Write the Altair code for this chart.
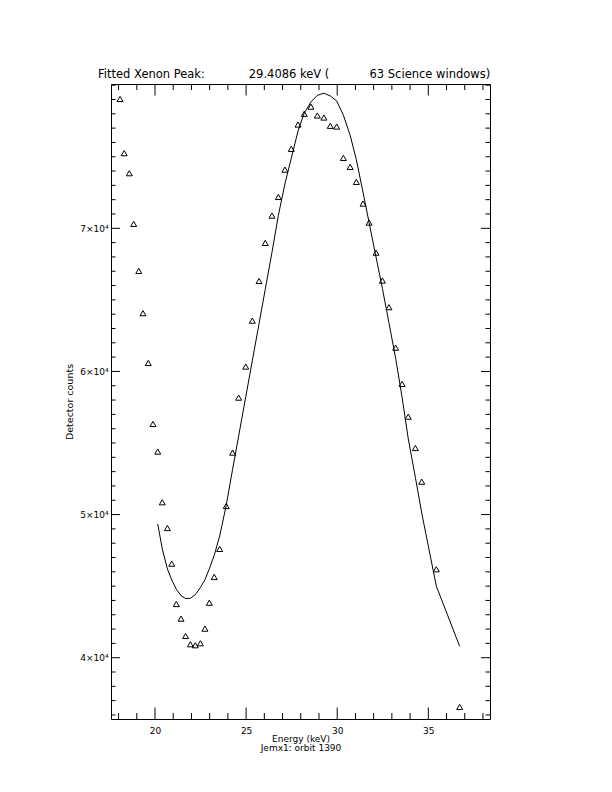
import altair as alt
import pandas as pd

# Measured data (triangles)
energy = [18.08, 18.31, 18.59, 18.83, 19.11, 19.34, 19.63, 19.89, 20.15, 20.40,
          20.68, 20.92, 21.17, 21.43, 21.68, 21.94, 22.21, 22.49, 22.74, 22.98,
          23.25, 23.55, 23.91, 24.26, 24.59, 24.98, 25.34, 25.71, 26.05, 26.42,
          26.77, 27.13, 27.48, 27.85, 28.19, 28.56, 28.91, 29.27, 29.62, 29.97,
          30.34, 30.71, 31.05, 31.42, 31.75, 32.13, 32.48, 32.84, 33.21, 33.56,
          33.90, 34.29, 34.64, 35.44, 36.72]
counts = [79040, 75250, 73850, 70310, 67020, 64070, 60590, 56330, 54400, 50860,
          49060, 46570, 43750, 42730, 41520, 40940, 40870, 41010, 42030, 43840,
          45640, 47600, 50600, 54330, 58170, 60340, 63550, 66320, 68980, 70890,
          72190, 74100, 75550, 77250, 78000, 78500, 77880, 77740, 77160, 77110,
          74920, 74290, 73240, 71730, 70400, 68300, 66350, 64490, 61660, 59130,
          56840, 54650, 52300, 46180, 36560]

# Fitted curve (evaluated at the data energies from 20.15 keV on)
fit_energy = energy[8:]
fit_counts = [49340, 47600, 46200, 45430, 44780, 44330, 44130, 44150, 44400, 44900,
              45450, 46200, 47150, 48500, 50650, 53170, 55480, 58220, 60740, 63340,
              65730, 68320, 70900, 73100, 74900, 76800, 78050, 78830, 79290, 79440,
              79250, 78900, 77900, 76500, 74800, 72500, 70400, 68000, 65800, 63400,
              60900, 58200, 55300, 52600, 50100, 45000, 40800]

# Tick values
x_major = [20, 25, 30, 35]
x_minor = [18, 19, 21, 22, 23, 24, 26, 27, 28, 29, 31, 32, 33, 34, 36, 37, 38]
y_major = [40000, 50000, 60000, 70000]
y_minor = [36000, 37000, 38000, 39000, 41000, 42000, 43000, 44000, 45000, 46000,
           47000, 48000, 49000, 51000, 52000, 53000, 54000, 55000, 56000, 57000,
           58000, 59000, 61000, 62000, 63000, 64000, 65000, 66000, 67000, 68000,
           69000, 71000, 72000, 73000, 74000, 75000, 76000, 77000, 78000, 79000,
           80000]

W, H = 379, 635
FONT = "DejaVu Sans"
NB = "\u00a0"

title_text = ("Fitted Xenon Peak:" + NB * 12 + "29.4086 keV (" + NB * 11
              + "63 Science windows)")

xscale = alt.Scale(domain=[17.585, 38.386], nice=False, zero=False)
yscale = alt.Scale(domain=[35717, 80082], nice=False, zero=False)

xaxis = alt.Axis(values=x_major, ticks=False, domain=False, grid=False,
                 labelFont=FONT, labelFontSize=9, labelPadding=7, labelColor="black",
                 title=["Energy (keV)", NB * 7 + "Jemx1: orbit 1390"],
                 titleFont=FONT, titleFontSize=9, titleFontWeight="normal",
                 titleLineHeight=9.5, titlePadding=-1, titleColor="black")
yaxis = alt.Axis(values=y_major, ticks=False, domain=False, grid=False,
                 labelExpr="datum.value/10000 + '×10⁴'",
                 labelFont=FONT, labelFontSize=9, labelPadding=3, labelColor="black",
                 title="Detector counts", titleFont=FONT, titleFontSize=9.5,
                 titleFontWeight="normal", titlePadding=5, titleColor="black")

X = alt.X("energy:Q", scale=xscale, axis=xaxis)
Y = alt.Y("counts:Q", scale=yscale, axis=yaxis)

pts = pd.DataFrame({"energy": energy, "counts": counts})
fit = pd.DataFrame({"energy": fit_energy, "counts": fit_counts})

points = alt.Chart(pts).mark_point(shape="triangle-up", filled=False, size=36,
                                    stroke="black", strokeWidth=1, opacity=1).encode(x=X, y=Y)
line = alt.Chart(fit).mark_line(color="black", strokeWidth=1).encode(x=X, y=Y)


def xticks(vals, length):
    df = pd.DataFrame({"energy": vals})
    bottom = alt.Chart(df).mark_rule(color="black", strokeWidth=1).encode(
        x=X, y=alt.value(H), y2=alt.value(H - length))
    top = alt.Chart(df).mark_rule(color="black", strokeWidth=1).encode(
        x=X, y=alt.value(0), y2=alt.value(length))
    return [bottom, top]


def yticks(vals, length):
    df = pd.DataFrame({"counts": vals})
    left = alt.Chart(df).mark_rule(color="black", strokeWidth=1).encode(
        y=Y, x=alt.value(0), x2=alt.value(length))
    right = alt.Chart(df).mark_rule(color="black", strokeWidth=1).encode(
        y=Y, x=alt.value(W), x2=alt.value(W - length))
    return [left, right]


layers = (xticks(x_major, 11.5) + xticks(x_minor, 6)
          + yticks(y_major, 9) + yticks(y_minor, 4.5) + [line, points])

chart = alt.layer(*layers).properties(
    width=W, height=H,
    title=alt.TitleParams(title_text, anchor="start", frame="group", dx=-13, offset=-6,
                          baseline="alphabetic", font=FONT, fontSize=11.5,
                          fontWeight="normal", color="black"),
    autosize=alt.AutoSizeParams(type="none"),
    padding={"left": 103, "top": 76, "right": 20, "bottom": 60},
    background="white",
).configure_view(stroke="black", strokeWidth=1)

chart.save("out.html", embed_options={"renderer": "svg", "actions": False})
